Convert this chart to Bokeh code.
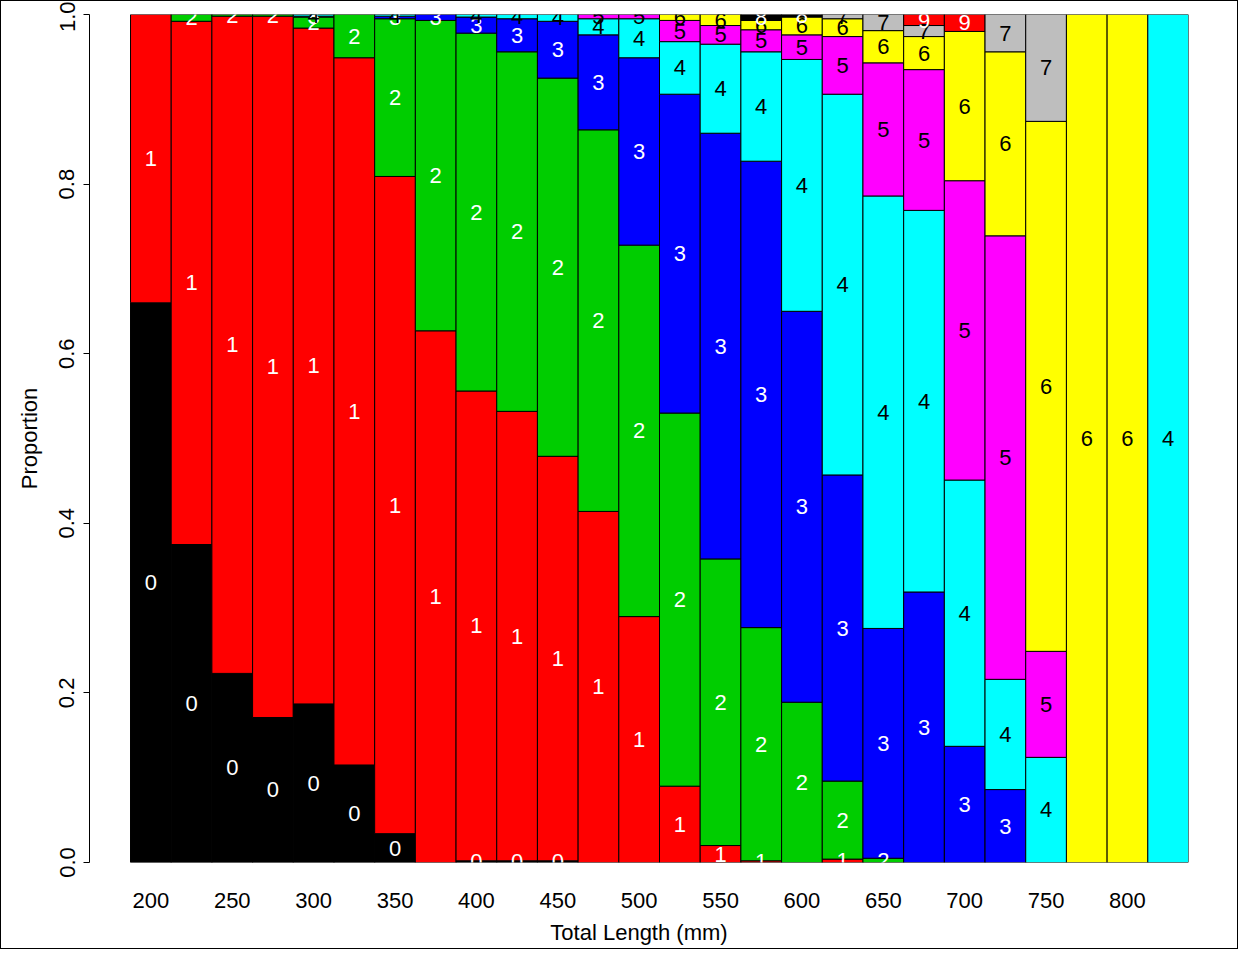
from bokeh.plotting import figure
from bokeh.models import ColumnDataSource, FixedTicker, PrintfTickFormatter, Range1d
from bokeh.core.properties import value
from bokeh.embed import file_html
from bokeh.resources import INLINE

# Length bins (mm)
lengths = [200, 225, 250, 275, 300, 325, 350, 375, 400, 425, 450, 475, 500,
           525, 550, 575, 600, 625, 650, 675, 700, 725, 750, 775, 800, 825]

# Proportion at age, by length bin
age0 = [.660, .375, .223, .171, .187, .115, .034, 0, .002, .002, .002, 0, 0,
        0, 0, 0, 0, 0, 0, 0, 0, 0, 0, 0, 0, 0]
age1 = [.340, .617, .775, .827, .797, .834, .775, .627, .554, .530, .477, .414, .290,
        .090, .020, .002, 0, .004, 0, 0, 0, 0, 0, 0, 0, 0]
age2 = [0, .008, .002, .002, .013, .051, .186, .366, .422, .424, .446, .450, .438,
        .440, .338, .275, .189, .092, .005, 0, 0, 0, 0, 0, 0, 0]
age3 = [0, 0, 0, 0, .001, 0, .003, .007, .019, .039, .067, .112, .221,
        .376, .502, .550, .461, .361, .271, .319, .137, .086, 0, 0, 0, 0]
age4 = [0, 0, 0, 0, .002, 0, .002, 0, .003, .005, .008, .019, .046,
        .062, .105, .129, .297, .449, .510, .450, .314, .130, .124, 0, 0, 1.0]
age5 = [0, 0, 0, 0, 0, 0, 0, 0, 0, 0, 0, .005, .005,
        .025, .022, .026, .029, .068, .157, .166, .353, .523, .125, 0, 0, 0]
age6 = [0, 0, 0, 0, 0, 0, 0, 0, 0, 0, 0, 0, 0,
        .007, .013, .011, .021, .021, .038, .039, .176, .217, .625, 1.0, 1.0, 0]
age7 = [0, 0, 0, 0, 0, 0, 0, 0, 0, 0, 0, 0, 0,
        0, 0, 0, 0, .005, .019, .013, 0, .044, .126, 0, 0, 0]
age8 = [0, 0, 0, 0, 0, 0, 0, 0, 0, 0, 0, 0, 0,
        0, 0, .007, .003, 0, 0, 0, 0, 0, 0, 0, 0, 0]
age9 = [0, 0, 0, 0, 0, 0, 0, 0, 0, 0, 0, 0, 0,
        0, 0, 0, 0, 0, 0, .013, .020, 0, 0, 0, 0, 0]

ages = [age0, age1, age2, age3, age4, age5, age6, age7, age8, age9]
age_colors = ["#000000", "#FF0000", "#00CD00", "#0000FF", "#00FFFF",
              "#FF00FF", "#FFFF00", "#BEBEBE", "#000000", "#FF0000"]
label_colors = ["white", "white", "white", "white", "black",
                "black", "black", "black", "white", "white"]

x, bottom, top, fill, mid, lab, lcol = [], [], [], [], [], [], []
for i, L in enumerate(lengths):
    cum = 0.0
    for a, vals in enumerate(ages):
        v = vals[i]
        if v > 0:
            x.append(L)
            bottom.append(cum)
            top.append(cum + v)
            fill.append(age_colors[a])
            mid.append(cum + v / 2)
            lab.append(str(a))
            lcol.append(label_colors[a])
            cum += v

src = ColumnDataSource(dict(x=x, bottom=bottom, top=top, fill=fill,
                            mid=mid, lab=lab, lcol=lcol))

FONT = "Liberation Sans"

p = figure(width=1238, height=949, output_backend="svg", toolbar_location=None,
           x_range=Range1d(162.3, 837.5), y_range=Range1d(0, 1),
           min_border_left=88, min_border_right=51, min_border_top=13,
           min_border_bottom=88)
p.styles = {"border": "1px solid black"}
p.outline_line_color = None
p.grid.grid_line_color = None
p.background_fill_color = "white"
p.border_fill_color = "white"

p.vbar(x="x", bottom="bottom", top="top", width=25, fill_color="fill",
       line_color="black", line_width=1, source=src)
p.text(x="x", y="mid", text="lab", text_color="lcol", source=src,
       text_font=value(FONT), text_font_size="22px",
       text_align="center", text_baseline="middle")

# x axis
xa = p.xaxis[0]
xa.ticker = FixedTicker(ticks=[200, 250, 300, 350, 400, 450, 500, 550, 600, 650, 700, 750, 800])
xa.axis_line_color = None
xa.major_tick_line_color = None
xa.minor_tick_line_color = None
xa.major_tick_out = 0
xa.major_tick_in = 0
xa.major_label_standoff = 30
xa.major_label_text_font = FONT
xa.major_label_text_font_size = "22px"
xa.major_label_text_color = "black"
xa.axis_label = "Total Length (mm)"
xa.axis_label_text_font = FONT
xa.axis_label_text_font_size = "22px"
xa.axis_label_text_font_style = "normal"
xa.axis_label_text_color = "black"
xa.axis_label_standoff = 9

# y axis
ya = p.yaxis[0]
ya.ticker = FixedTicker(ticks=[0, 0.2, 0.4, 0.6, 0.8, 1.0])
ya.formatter = PrintfTickFormatter(format="%.1f")
ya.axis_line_color = "black"
ya.major_tick_line_color = "black"
ya.minor_tick_line_color = None
ya.major_tick_out = 6
ya.major_tick_in = 0
ya.major_label_orientation = "vertical"
ya.major_label_standoff = 9
ya.major_label_text_font = FONT
ya.major_label_text_font_size = "22px"
ya.major_label_text_color = "black"
ya.axis_label = "Proportion"
ya.axis_label_text_font = FONT
ya.axis_label_text_font_size = "22px"
ya.axis_label_text_font_style = "normal"
ya.axis_label_text_color = "black"
ya.axis_label_standoff = 15

open("out.html", "w").write(file_html(p, INLINE))
